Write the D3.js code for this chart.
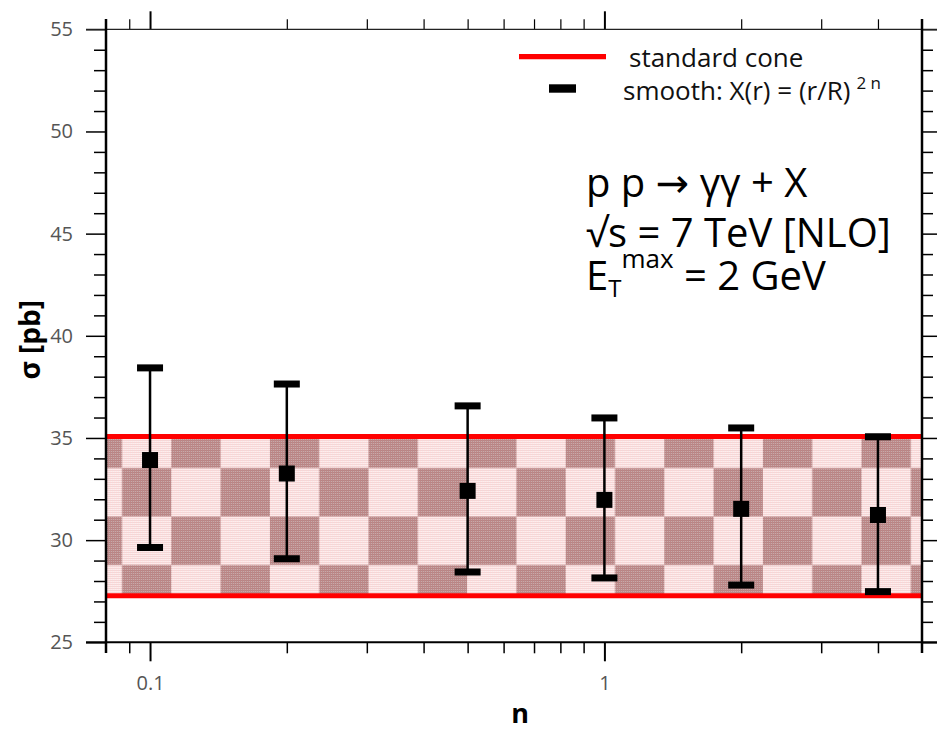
<!DOCTYPE html>
<html>
<head>
<meta charset="utf-8">
<script src="https://cdn.jsdelivr.net/npm/d3@7"></script>
<style>
  html, body { margin: 0; padding: 0; background: #fff; }
  svg { display: block; font-family: "Open Sans", "DejaVu Sans", sans-serif; }
</style>
</head>
<body>
<svg id="chart" width="937" height="731"></svg>
<script>
// ---------------- data ----------------
const nValues      = [0.1, 0.2, 0.5, 1, 2, 4];
const sigmaCentral = [33.92, 33.26, 32.41, 31.97, 31.53, 31.23];
const sigmaUpper   = [38.43, 37.64, 36.57, 35.98, 35.49, 35.06];
const sigmaLower   = [29.64, 29.09, 28.44, 28.15, 27.80, 27.48];
const coneBand     = [27.28, 35.07];   // standard cone: lower, upper
const xDomain      = [0.08, 5];
const yDomain      = [25, 55];
const xMajorTicks  = [0.1, 1];
const xMinorTicks  = [0.09, 0.2, 0.3, 0.4, 0.5, 0.6, 0.7, 0.8, 0.9, 2, 3, 4];
const xTickLabels  = ["0.1", "1"];
const yMajorTicks  = [25, 30, 35, 40, 45, 50, 55];
const yMinorTicks  = d3.range(25, 56, 1).filter(v => v % 5 !== 0);

// ---------------- layout ----------------
const L = 106, R = 922, T = 29.3, B = 642.3;
const svg = d3.select("#chart");
const x = d3.scaleLog().domain(xDomain).range([L, R]);
const y = d3.scaleLinear().domain(yDomain).range([B, T]);

// ---------------- patterns ----------------
const defs = svg.append("defs");
const dither = defs.append("pattern").attr("id", "dither")
  .attr("patternUnits", "userSpaceOnUse").attr("x", 0).attr("y", 0)
  .attr("width", 2).attr("height", 2);
dither.append("rect").attr("x", 0).attr("y", 0).attr("width", 1).attr("height", 1).attr("fill", "rgba(220,40,40,0.10)");
dither.append("rect").attr("x", 1).attr("y", 1).attr("width", 1).attr("height", 1).attr("fill", "rgba(255,255,255,0.22)");
dither.append("rect").attr("x", 1).attr("y", 0).attr("width", 1).attr("height", 1).attr("fill", "rgba(60,40,40,0.08)");

const cw = 49.3, ch = 48.5;
const checker = defs.append("pattern").attr("id", "checker")
  .attr("patternUnits", "userSpaceOnUse")
  .attr("x", 122 - cw).attr("y", 468 - ch)
  .attr("width", 2 * cw).attr("height", 2 * ch);
checker.append("rect").attr("width", 2 * cw).attr("height", 2 * ch).attr("fill", "#fee8e8");
checker.append("rect").attr("width", cw).attr("height", ch).attr("fill", "#bc8e8e");
checker.append("rect").attr("x", cw).attr("y", ch).attr("width", cw).attr("height", ch).attr("fill", "#bc8e8e");

// ---------------- band ----------------
const bandY = y(coneBand[1]), bandH = y(coneBand[0]) - y(coneBand[1]);
svg.append("rect").attr("x", L).attr("width", R - L)
  .attr("y", bandY).attr("height", bandH).attr("fill", "url(#checker)");
svg.append("rect").attr("x", L).attr("width", R - L)
  .attr("y", bandY).attr("height", bandH).attr("fill", "url(#dither)");
svg.selectAll("line.band").data(coneBand).join("line")
  .attr("class", "band")
  .attr("x1", L).attr("x2", R)
  .attr("y1", d => y(d)).attr("y2", d => y(d))
  .attr("stroke", "#ff0000").attr("stroke-width", 5);

// ---------------- error bars ----------------
const pts = nValues.map((n, i) => ({ n, c: sigmaCentral[i], hi: sigmaUpper[i], lo: sigmaLower[i] }));
const g = svg.append("g");
g.selectAll("line.err").data(pts).join("line")
  .attr("x1", d => x(d.n)).attr("x2", d => x(d.n))
  .attr("y1", d => y(d.hi)).attr("y2", d => y(d.lo))
  .attr("stroke", "#000").attr("stroke-width", 2.5);
const capW = 26, capH = 7;
g.selectAll("rect.capHi").data(pts).join("rect")
  .attr("x", d => x(d.n) - capW / 2).attr("y", d => y(d.hi) - capH / 2)
  .attr("width", capW).attr("height", capH).attr("fill", "#000");
g.selectAll("rect.capLo").data(pts).join("rect")
  .attr("x", d => x(d.n) - capW / 2).attr("y", d => y(d.lo) - capH / 2)
  .attr("width", capW).attr("height", capH).attr("fill", "#000");
const ms = 16;
g.selectAll("rect.mk").data(pts).join("rect")
  .attr("x", d => x(d.n) - ms / 2).attr("y", d => y(d.c) - ms / 2)
  .attr("width", ms).attr("height", ms).attr("fill", "#000");

// ---------------- axes ----------------
function styleAxis(sel, w) {
  sel.select(".domain").remove();
  sel.selectAll(".tick line").attr("stroke", "#000").attr("stroke-width", w);
  sel.selectAll(".tick text").attr("fill", "#555").style("font-size", "20px")
     .style("font-family", "'Open Sans', sans-serif");
}
// left
svg.append("g").attr("transform", `translate(${L},0)`)
  .call(d3.axisLeft(y).tickValues(yMinorTicks).tickSize(12).tickFormat(""))
  .call(s => styleAxis(s, 1.5));
svg.append("g").attr("transform", `translate(${L},0)`)
  .call(d3.axisLeft(y).tickValues(yMajorTicks).tickSize(20).tickPadding(13).tickFormat(d3.format("d")))
  .call(s => styleAxis(s, 1.5));
// right
svg.append("g").attr("transform", `translate(${R},0)`)
  .call(d3.axisRight(y).tickValues(yMinorTicks).tickSize(11).tickFormat(""))
  .call(s => styleAxis(s, 1.5));
svg.append("g").attr("transform", `translate(${R},0)`)
  .call(d3.axisRight(y).tickValues(yMajorTicks).tickSize(16).tickFormat(""))
  .call(s => styleAxis(s, 1.5));
// bottom
svg.append("g").attr("transform", `translate(0,${B})`)
  .call(d3.axisBottom(x).tickValues(xMinorTicks).tickSize(11).tickFormat(""))
  .call(s => styleAxis(s, 1.5));
svg.append("g").attr("transform", `translate(0,${B})`)
  .call(d3.axisBottom(x).tickValues(xMajorTicks).tickSize(19).tickPadding(15)
    .tickFormat((d, i) => xTickLabels[i]))
  .call(s => styleAxis(s, 2));
// top
svg.append("g").attr("transform", `translate(0,${T})`)
  .call(d3.axisTop(x).tickValues(xMinorTicks).tickSize(10).tickFormat(""))
  .call(s => styleAxis(s, 1.2));
svg.append("g").attr("transform", `translate(0,${T})`)
  .call(d3.axisTop(x).tickValues(xMajorTicks).tickSize(18).tickFormat(""))
  .call(s => styleAxis(s, 2));

// frame lines (extended past corners)
svg.append("line").attr("x1", 86).attr("x2", 937).attr("y1", T).attr("y2", T)
  .attr("stroke", "#222").attr("stroke-width", 1.2);
svg.append("line").attr("x1", 86).attr("x2", 937).attr("y1", B).attr("y2", B)
  .attr("stroke", "#000").attr("stroke-width", 2);
svg.append("line").attr("x1", L).attr("x2", L).attr("y1", 19).attr("y2", 653)
  .attr("stroke", "#000").attr("stroke-width", 2.5);
svg.append("line").attr("x1", R).attr("x2", R).attr("y1", 19).attr("y2", 653)
  .attr("stroke", "#000").attr("stroke-width", 2.5);

// ---------------- axis titles ----------------
svg.append("text").attr("x", (L + R) / 2 + 6).attr("y", 723)
  .attr("text-anchor", "middle").style("font-size", "27px").style("font-weight", "bold")
  .text("n");
svg.append("text").attr("transform", `translate(40,${(T + B) / 2 + 4}) rotate(-90)`)
  .attr("text-anchor", "middle").style("font-size", "28px").style("font-weight", "bold")
  .text("σ [pb]");

// ---------------- legend ----------------
svg.append("line").attr("x1", 519).attr("x2", 606).attr("y1", 56.7).attr("y2", 56.7)
  .attr("stroke", "#ff0000").attr("stroke-width", 5.3);
svg.append("text").attr("x", 629).attr("y", 66.5).style("font-size", "26px")
  .attr("fill", "#111").text("standard cone");
svg.append("rect").attr("x", 549).attr("y", 84.3).attr("width", 27).attr("height", 8.4).attr("fill", "#000");
const lt = svg.append("text").attr("x", 623).attr("y", 100).style("font-size", "26px").attr("fill", "#111");
lt.append("tspan").text("smooth: X(r) = (r/R)");
lt.append("tspan").attr("dx", 6).attr("dy", -11).style("font-size", "17px").text("2 n");

// ---------------- annotation ----------------
const ann = svg.append("g").style("font-size", "40px").attr("fill", "#000");
ann.append("text").attr("x", 586).attr("y", 196.7).text("p p → γγ + X");
ann.append("text").attr("x", 586).attr("y", 246.7).text("√s = 7 TeV [NLO]");
const e = ann.append("text").attr("x", 586).attr("y", 290);
e.append("tspan").text("E");
e.append("tspan").attr("dy", 7).style("font-size", "24px").text("T");
e.append("tspan").attr("dy", -29).style("font-size", "26px").text("max");
e.append("tspan").attr("dy", 22).text(" = 2 GeV");
</script>
</body>
</html>
